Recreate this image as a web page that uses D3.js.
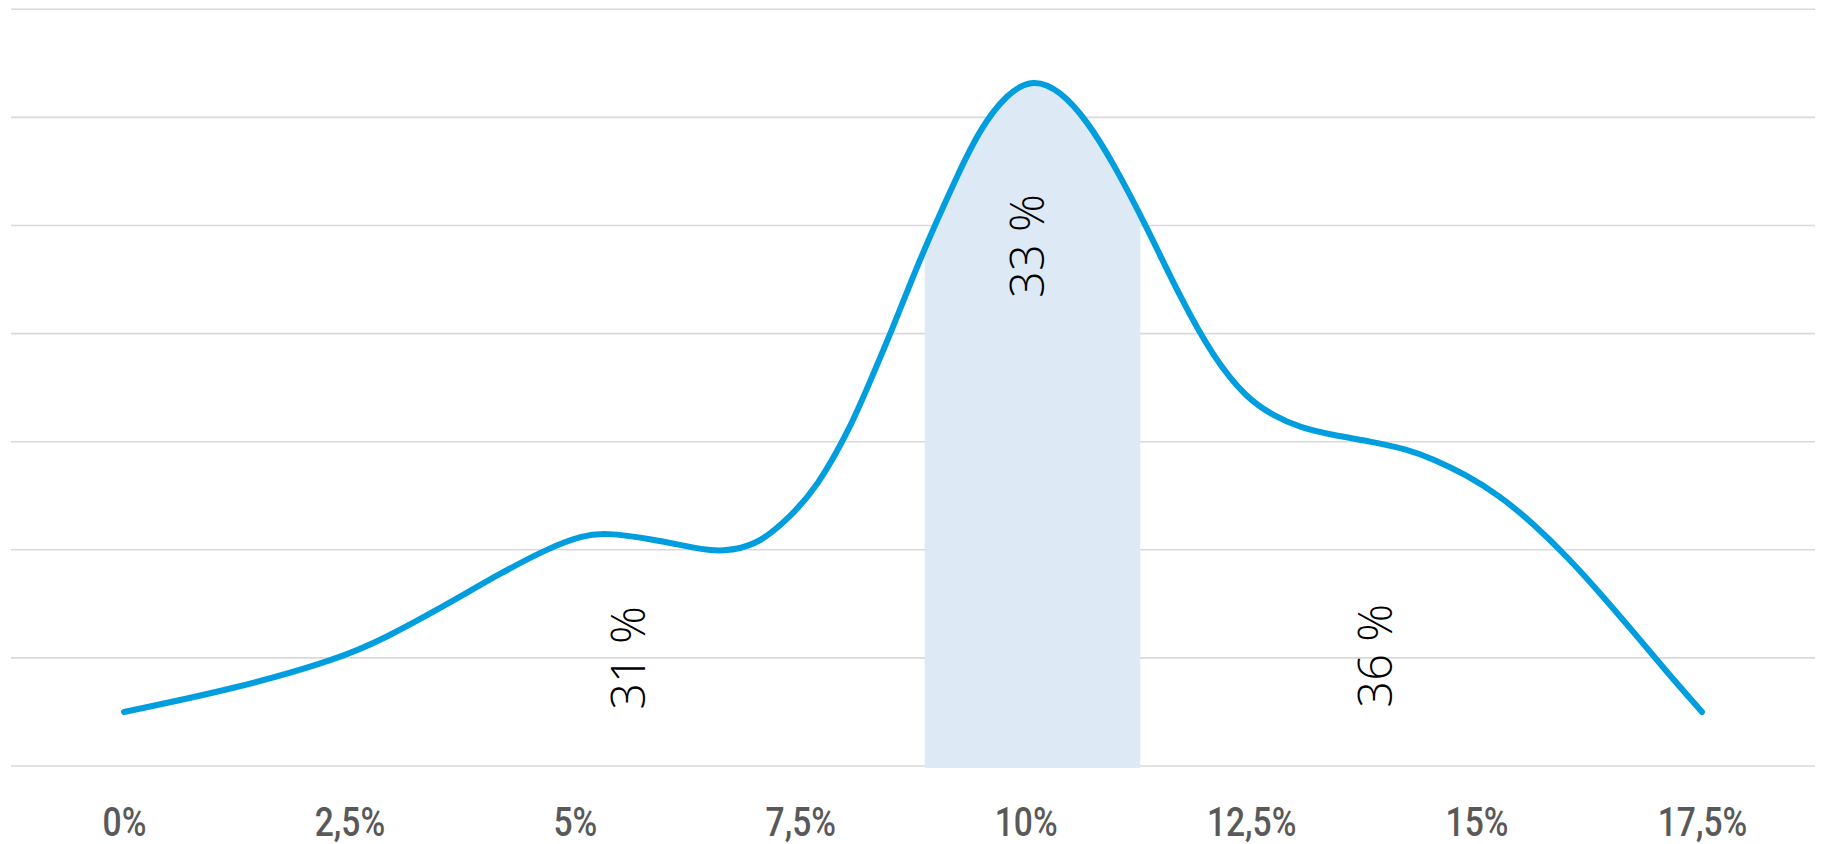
<!DOCTYPE html>
<html>
<head>
<meta charset="utf-8">
<script src="https://cdn.jsdelivr.net/npm/d3@7"></script>
<style>
  body { margin: 0; background: #fff; }
  svg { display: block; }
</style>
</head>
<body>
<div id="chart"></div>
<script>
/* CONSTANTS AND GLOBALS */
const width = 1823,
  height = 844;

// curve: x in %, y in grid units (one unit = one gridline)
const xValues = [0, 1.26, 2.38, 2.89, 3.55, 4.21, 4.72, 5.08, 5.33, 5.85, 6.36, 6.63, 7.02, 7.37, 7.68,
  8.05, 8.27, 8.53, 8.75, 8.98, 9.24, 9.49, 9.79, 10.08, 10.38, 10.68, 10.97, 11.34, 11.71, 12.08,
  12.45, 12.75, 13.04, 13.41, 13.84, 14.23, 14.52, 14.87, 15.26, 15.63, 16.0, 16.37, 16.74, 17.11, 17.5];
const yValues = [0.50, 0.72, 0.99, 1.18, 1.48, 1.80, 2.02, 2.13, 2.16, 2.10, 2.01, 1.98, 2.04, 2.29, 2.57,
  3.12, 3.55, 4.06, 4.53, 4.98, 5.46, 5.89, 6.22, 6.36, 6.25, 5.97, 5.58, 4.99, 4.34, 3.78,
  3.40, 3.24, 3.13, 3.06, 3.00, 2.93, 2.84, 2.70, 2.50, 2.24, 1.94, 1.60, 1.24, 0.87, 0.50];

const xTicks = [0, 2.5, 5, 7.5, 10, 12.5, 15, 17.5];
const gridLevels = [0, 1, 2, 3, 4, 5, 6, 7];

// highlighted band
const bandStart = 8.88,
  bandEnd = 11.27;

// share labels
const labelTexts = ["31 %", "33 %", "36 %"];
const labelX = [5.59, 10.01, 13.87];
const labelY = [1.0, 4.81, 1.02];

const data = xValues.map((x, i) => ({ x: x, y: yValues[i] }));

/* SCALES */
const xScale = d3.scaleLinear()
  .domain([0, 17.5])
  .range([124, 1702]);

const yScale = d3.scaleLinear()
  .domain([0, 7])
  .range([766, 9.3]);

const svg = d3.select("#chart")
  .append("svg")
  .attr("width", width)
  .attr("height", height);

// gridlines
svg.append("g")
  .selectAll("line")
  .data(gridLevels)
  .join("line")
  .attr("x1", 11)
  .attr("x2", 1815)
  .attr("y1", d => yScale(d))
  .attr("y2", d => yScale(d))
  .attr("stroke", "#d9d9d9")
  .attr("stroke-width", 1.6);

// shaded band under the curve
svg.append("clipPath")
  .attr("id", "band-clip")
  .append("rect")
  .attr("x", xScale(bandStart))
  .attr("width", xScale(bandEnd) - xScale(bandStart))
  .attr("y", 0)
  .attr("height", yScale(0) + 2);

const area = d3.area()
  .x(d => xScale(d.x))
  .y0(yScale(0) + 2)
  .y1(d => yScale(d.y))
  .curve(d3.curveBasis);

svg.append("path")
  .datum(data)
  .attr("clip-path", "url(#band-clip)")
  .attr("fill", "#dde9f5")
  .attr("d", area);

// the curve
const line = d3.line()
  .x(d => xScale(d.x))
  .y(d => yScale(d.y))
  .curve(d3.curveBasis);

svg.append("path")
  .datum(data)
  .attr("fill", "none")
  .attr("stroke", "#009ede")
  .attr("stroke-width", 6)
  .attr("stroke-linecap", "round")
  .attr("stroke-linejoin", "round")
  .attr("d", line);

// rotated share labels
const capHalf = 17;
svg.append("g")
  .selectAll("text")
  .data(labelTexts)
  .join("text")
  .attr("transform", (d, i) => `translate(${xScale(labelX[i]) + capHalf}, ${yScale(labelY[i])}) rotate(-90)`)
  .attr("text-anchor", "middle")
  .attr("font-family", "'Open Sans', sans-serif")
  .attr("font-weight", 300)
  .attr("font-size", 47)
  .attr("fill", "#000")
  .text(d => d);

// x axis
const xAxis = d3.axisBottom(xScale)
  .tickValues(xTicks)
  .tickSize(0)
  .tickFormat(d => String(d).replace(".", ",") + "%");

svg.append("g")
  .attr("transform", `translate(0, ${yScale(0)})`)
  .call(xAxis)
  .call(g => g.select(".domain").remove())
  .call(g => g.selectAll("text")
    .attr("y", 70)
    .attr("dy", 0)
    .attr("transform", "scale(0.84, 1)")
    .attr("fill", "#595959")
    .attr("font-family", "Roboto, sans-serif")
    .attr("font-weight", 500)
    .attr("font-size", 40));
</script>
</body>
</html>
